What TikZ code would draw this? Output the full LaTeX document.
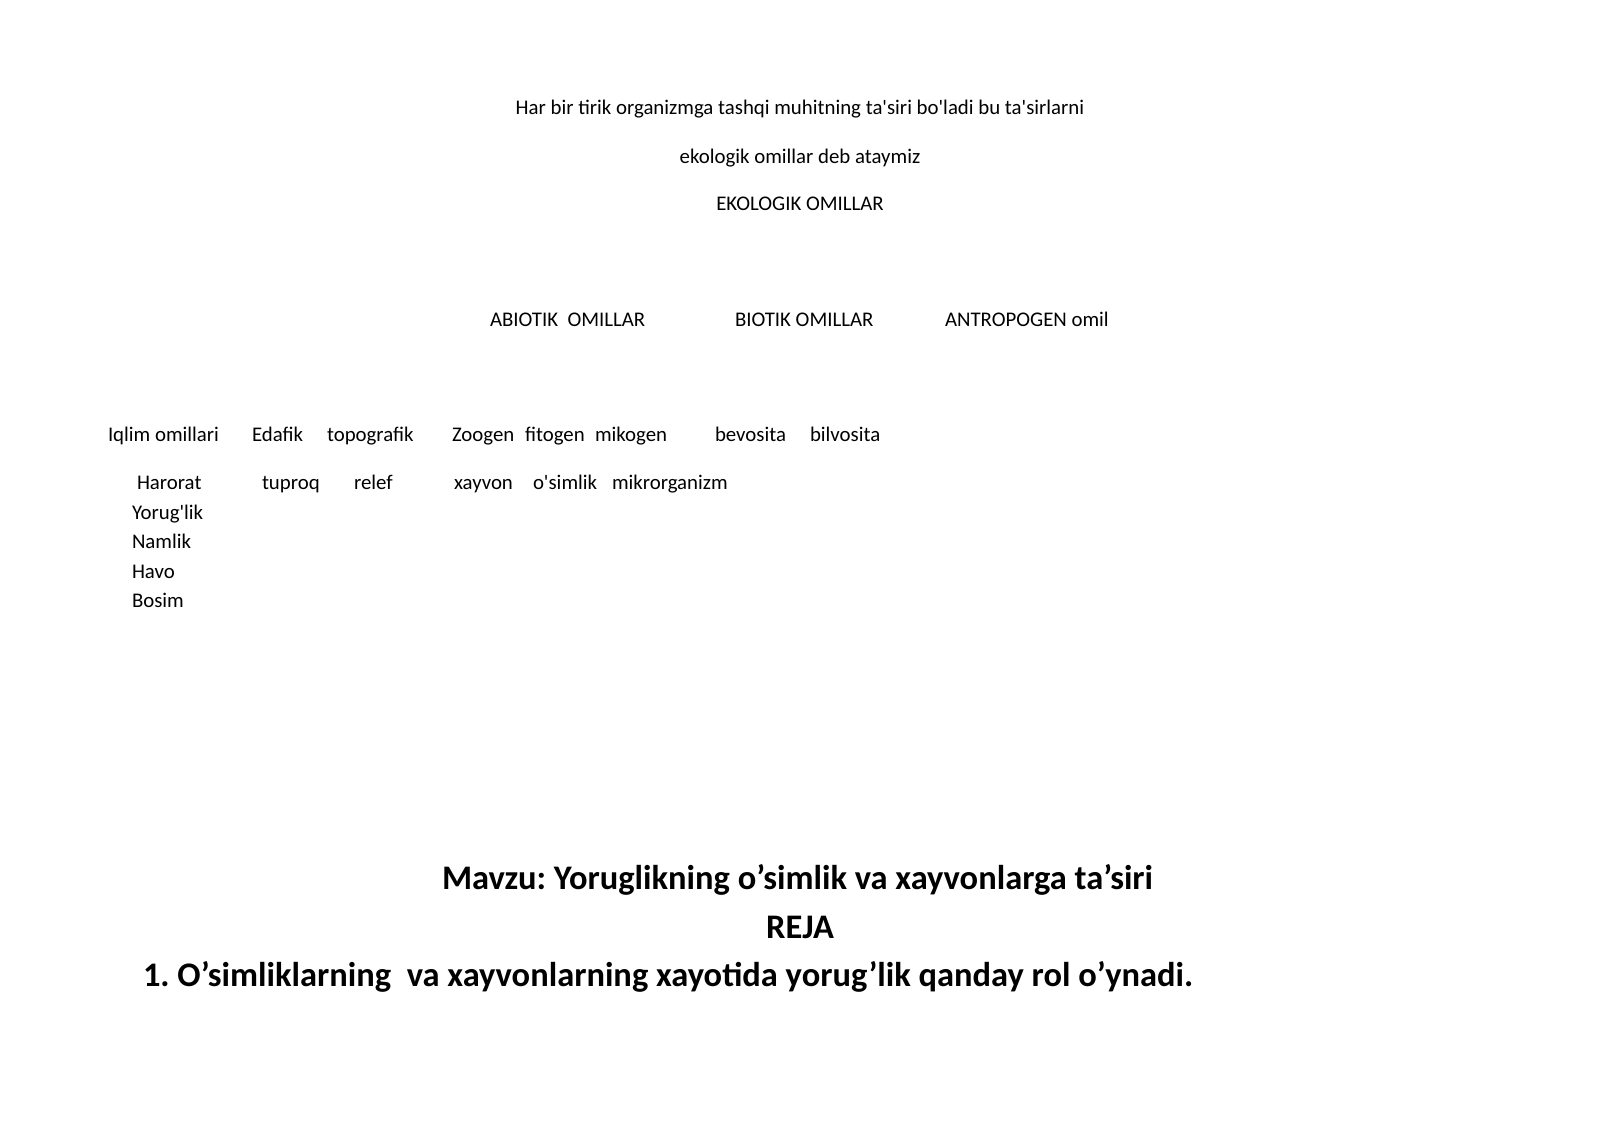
\documentclass[tikz,border=0pt]{standalone}
\usepackage{fontspec}
\setmainfont{Carlito}[Ligatures=TeXOff]
\frenchspacing
\begin{document}
\begin{tikzpicture}[x=0.185625mm,y=-0.185625mm,
  txt/.style={inner sep=0pt,outer sep=0pt,anchor=base west,font=\fontsize{11pt}{13pt}\selectfont},
  ctxt/.style={txt,anchor=base},
  big/.style={inner sep=0pt,outer sep=0pt,anchor=base west,font=\fontsize{18.2pt}{22pt}\selectfont\bfseries},
  cbig/.style={big,anchor=base}]
\useasboundingbox[fill=white] (0,0) rectangle (1600,1131);
% top lines
\node[ctxt] (l1) at (800,115) {Har bir tirik organizmga tashqi muhitning ta'siri bo'ladi bu ta'sirlarni};
\node[ctxt] (l2) at (800,164) {ekologik omillar deb ataymiz};
\node[ctxt] (l3) at (800,211) {EKOLOGIK OMILLAR};
% second level
\node[txt] (abio) at (490,326) {ABIOTIK\ \ OMILLAR};
\node[txt] (bio) at (735,326) {BIOTIK OMILLAR};
\node[txt] (antro) at (945,326) {ANTROPOGEN omil};
% third level
\node[txt] (iqlim) at (108,441) {Iqlim omillari};
\node[txt] (edafik) at (252,441) {Edafik};
\node[txt] (topo) at (327,441) {topografik};
\node[txt] (zoo) at (452,441) {Zoogen};
\node[txt] (fito) at (525,441) {fitogen};
\node[txt] (miko) at (595,441) {mikogen};
\node[txt] (bevo) at (715,441) {bevosita};
\node[txt] (bilvo) at (810,441) {bilvosita};
% fourth level
\node[txt] (harorat) at (137,489) {Harorat};
\node[txt] (tuproq) at (262,489) {tuproq};
\node[txt] (relef) at (354,489) {relef};
\node[txt] (xayvon) at (454,489) {xayvon};
\node[txt] (osimlik) at (533,489) {o'simlik};
\node[txt] (mikr) at (612,489) {mikrorganizm};
\node[txt] (yorug) at (132,519) {Yorug'lik};
\node[txt] (namlik) at (132,548) {Namlik};
\node[txt] (havo) at (132,578) {Havo};
\node[txt] (bosim) at (132,607) {Bosim};
% bottom
\node[big] (mavzu) at (442,889) {Mavzu: Yoruglikning o’simlik va xayvonlarga ta’siri};
\node[cbig] (reja) at (800,938) {REJA};
\node[big] (p1) at (143,986) {1. O’simliklarning\ \ va xayvonlarning xayotida yorug’lik qanday rol o’ynadi.};
\end{tikzpicture}
\end{document}
